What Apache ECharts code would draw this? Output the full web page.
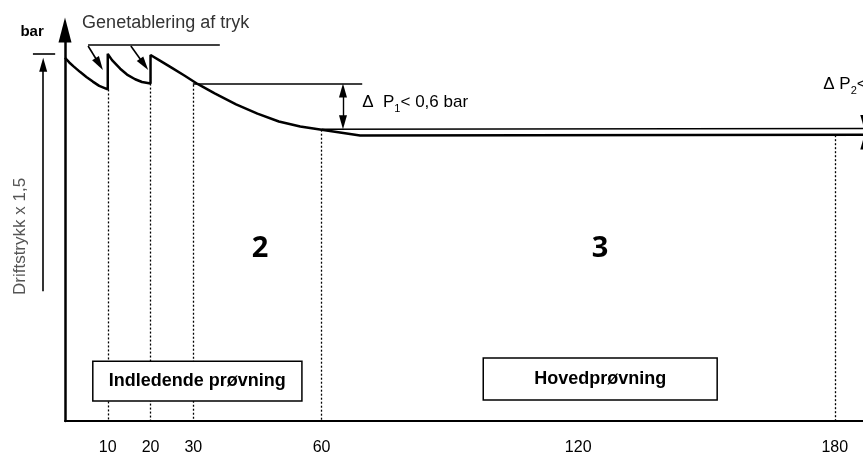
<!DOCTYPE html>
<html><head><meta charset="utf-8">
<script src="https://cdn.jsdelivr.net/npm/echarts@6/dist/echarts.min.js"></script>
<style>html,body{margin:0;padding:0;background:#fff}#c{width:863px;height:456px}</style>
</head><body><div id="c"></div>
<script>
// time axis (minutes) tick labels
const xTicks = [10, 20, 30, 60, 120, 180];
// schematic pressure curve [time, pressure units]
const pressureCurve = [
  [0, 92.9], [1, 91.7], [2, 90.7], [3.5, 89.3], [5, 88.0], [6.5, 86.8], [8, 85.7], [10, 84.8],
  [10, 93.9], [11, 92.3], [12.9, 90.1], [14.5, 88.6], [16.4, 87.4], [18, 86.7], [20, 86.3],
  [20, 93.6], [22, 92.3], [25, 90.3], [28, 88.3], [31, 86.2], [35, 83.8], [40, 81.0],
  [45, 78.6], [50, 76.6], [55, 75.3], [60, 74.5], [69, 73.0], [186.6, 73.2]
];
const finalLevel = [[60, 74.6], [186.6, 74.8]];
const level30 = [[29.9, 86.3], [69.5, 86.3]];
const restoreBar = [[5.4, 96.2], [36.2, 96.2]];
const restoreArrows = [[[5.4, 95.9], [8.0, 91.3]], [[15.4, 95.9], [18.5, 91.2]]];
const deltaP1Arrow = [[65, 84.5], [65, 76.4]];
const testPressureTick = [[-7.5, 93.9], [-2.3, 93.9]];
const testPressureArrow = [[-5.1, 33.2], [-5.1, 91.1]];
const dropLines = [[10, 84.8], [20, 86.3], [30, 86.0], [60, 74.5], [180, 73.1]];
const deltaP2Arrows = [[[186.9, 82], [186.9, 76.5]], [[186.9, 64], [186.9, 71.2]]];
const phaseBoxes = [
  { name: 'Indledende prøvning', from: [6.5, 15.3], to: [55.4, 5.1] },
  { name: 'Hovedprøvning', from: [97.8, 16.1], to: [152.5, 5.4] }
];
const phaseNumbers = [{ name: '2', at: [45.6, 44.1] }, { name: '3', at: [125.1, 44.1] }];
const leftTexts = [
  { name: 'Genetablering af tryk', at: [4.0, 101.8] },
  { name: 'dp1', at: [69.5, 81.4] },
  { name: 'dp2', at: [177.3, 86.0] }
];

const FONT = '"Liberation Sans", Arial, sans-serif';
const chart = echarts.init(document.getElementById('c'), null, { renderer: 'canvas' });

function segLines(list) { return list.map(c => ({ coords: c })); }
const solid = { opacity: 1 };

const option = {
  animation: false,
  backgroundColor: '#fff',
  grid: { left: 65, right: 0, top: 30, bottom: 34, containLabel: false },
  xAxis: {
    type: 'value', min: 0, max: 186.6,
    axisLine: { show: true, onZero: false, lineStyle: { color: '#000', width: 2 } },
    axisTick: { show: false },
    splitLine: { show: false },
    axisLabel: { customValues: xTicks, fontSize: 16, color: '#000', fontFamily: FONT, margin: 19 }
  },
  yAxis: {
    type: 'value', min: 0, max: 100,
    axisLine: { show: true, onZero: false, symbol: ['none', 'triangle'], symbolSize: [13, 25], lineStyle: { color: '#000', width: 2.5 } },
    axisTick: { show: false }, axisLabel: { show: false }, splitLine: { show: false }
  },
  series: [
    {
      type: 'lines', coordinateSystem: 'cartesian2d', clip: false, z: 1,
      lineStyle: { color: '#000', width: 1.3, type: [2, 2], opacity: 1 },
      data: dropLines.map(p => ({ coords: [p, [p[0], 0]] }))
    },
    {
      type: 'custom', z: 3, clip: false,
      data: phaseBoxes.map(b => [b.from[0], b.from[1], b.to[0], b.to[1]]),
      renderItem: function (params, api) {
        const p1 = api.coord([api.value(0), api.value(1)]);
        const p2 = api.coord([api.value(2), api.value(3)]);
        return {
          type: 'group', children: [
            { type: 'rect', shape: { x: p1[0], y: p1[1], width: p2[0] - p1[0], height: p2[1] - p1[1] },
              style: { fill: '#fff', stroke: '#000', lineWidth: 1.5 } },
            { type: 'text', style: { text: phaseBoxes[params.dataIndex].name, x: (p1[0] + p2[0]) / 2, y: (p1[1] + p2[1]) / 2,
              align: 'center', verticalAlign: 'middle', font: 'bold 18px ' + FONT, fill: '#000' } }
          ]
        };
      }
    },
    {
      type: 'line', z: 4, data: pressureCurve, symbol: 'none', clip: false,
      lineStyle: { color: '#000', width: 2.5 }
    },
    {
      type: 'lines', coordinateSystem: 'cartesian2d', clip: false, z: 4,
      lineStyle: { color: '#000', width: 1.6, opacity: 1 },
      data: segLines([finalLevel, level30, restoreBar, testPressureTick])
    },
    {
      type: 'lines', coordinateSystem: 'cartesian2d', clip: false, z: 5,
      symbol: ['none', 'triangle'], symbolSize: [[8, 14], [8, 14]],
      lineStyle: { color: '#000', width: 1.6, opacity: 1 },
      data: segLines(restoreArrows.concat([testPressureArrow]).concat(deltaP2Arrows))
    },
    {
      type: 'lines', coordinateSystem: 'cartesian2d', clip: false, z: 5,
      symbol: ['triangle', 'triangle'], symbolSize: [[8, 14], [8, 14]],
      lineStyle: { color: '#000', width: 1.4, opacity: 1 },
      data: segLines([deltaP1Arrow])
    },
    {
      type: 'scatter', z: 6, clip: false, symbolSize: 0, silent: true, itemStyle: solid,
      data: leftTexts.map(t => ({ name: t.name, value: t.at })),
      label: {
        show: true, position: 'inside', align: 'left', verticalAlign: 'middle', textBorderWidth: 0, opacity: 1,
        fontFamily: FONT, fontSize: 17, color: '#000', lineHeight: 24,
        formatter: function (p) {
          if (p.name === 'dp1') return 'Δ  P{s|1}< 0,6 bar';
          if (p.name === 'dp2') return 'Δ P{s|2}< 0,2 bar';
          return '{g|' + p.name + '}';
        },
        rich: {
          s: { fontSize: 11, fontFamily: FONT, verticalAlign: 'bottom', lineHeight: 24, color: '#000' },
          g: { fontSize: 18, fontFamily: FONT, color: '#333' }
        }
      }
    },
    {
      type: 'scatter', z: 6, clip: false, symbolSize: 0, silent: true, itemStyle: solid,
      data: phaseNumbers.map(t => ({ name: t.name, value: t.at })),
      label: { show: true, position: 'inside', formatter: '{b}', textBorderWidth: 0, opacity: 1, fontFamily: '"Open Sans", sans-serif', fontWeight: 'bold', fontSize: 29, color: '#000' }
    },
    {
      type: 'scatter', z: 6, clip: false, symbolSize: 0, silent: true, itemStyle: solid,
      data: [{ name: 'bar', value: [-7.7, 99.5] }],
      label: { show: true, position: 'inside', formatter: '{b}', textBorderWidth: 0, opacity: 1, fontFamily: FONT, fontWeight: 'bold', fontSize: 15, color: '#000' }
    },
    {
      type: 'scatter', z: 6, clip: false, symbolSize: 0, silent: true, itemStyle: solid,
      data: [{ name: 'Driftstrykk x 1,5', value: [-10.5, 47.2] }],
      label: { show: true, position: 'inside', rotate: 90, formatter: '{b}', textBorderWidth: 0, opacity: 1, fontFamily: FONT, fontSize: 17, color: '#555' }
    }
  ]
};
chart.setOption(option);
</script>
</body></html>
